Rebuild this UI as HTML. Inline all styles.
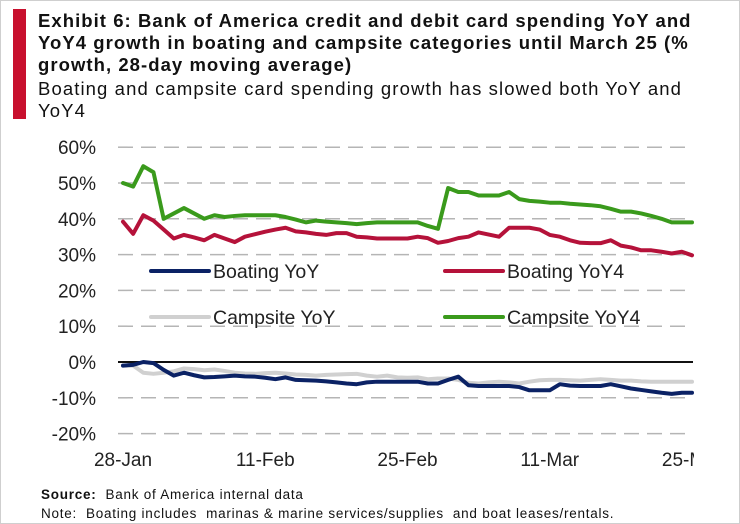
<!DOCTYPE html>
<html><head><meta charset="utf-8"><style>
body{margin:0;background:#fff;}
#wrap{position:relative;width:738px;height:522px;border:1px solid #cfcfcf;overflow:hidden;font-family:"Liberation Sans",sans-serif;}
#bar{position:absolute;left:12px;top:8px;width:13px;height:110px;background:#c8102e;}
#title{position:absolute;left:37px;top:9px;width:720px;font-weight:bold;font-size:18.5px;letter-spacing:1.05px;line-height:22px;color:#111;white-space:nowrap;}
#sub{position:absolute;left:37px;top:77px;width:720px;font-size:18.5px;letter-spacing:1.1px;line-height:22px;color:#111;white-space:nowrap;}
#foot{position:absolute;left:40px;top:484px;font-size:13.5px;letter-spacing:0.75px;line-height:19px;color:#111;white-space:nowrap;}
</style></head><body>
<div id="wrap">
<div id="bar"></div>
<div id="title">Exhibit 6: Bank of America credit and debit card spending YoY and<br>YoY4 growth in boating and campsite categories until March 25 (%<br>growth, 28-day moving average)</div>
<div id="sub">Boating and campsite card spending growth has slowed both YoY and<br>YoY4</div>
<svg id="chart" width="740" height="480" style="position:absolute;left:-1px;top:-1px;font-family:'Liberation Sans',sans-serif;"></svg>
<div id="foot"><b>Source:</b>&nbsp; Bank of America internal data<br>Note:&nbsp; Boating includes &nbsp;marinas &amp; marine services/supplies &nbsp;and boat leases/rentals.</div>
</div>
<script>
const xTickLabels=["28-Jan","11-Feb","25-Feb","11-Mar","25-Mar"];
const xTickDays=[0,14,28,42,56];
const yTicks=[60,50,40,30,20,10,0,-10,-20];
const boatingYoY=[-1,-0.8,0,-0.3,-2.2,-3.8,-3,-3.7,-4.3,-4.2,-4,-3.8,-4,-4.1,-4.4,-4.8,-4.3,-5,-5.1,-5.2,-5.4,-5.7,-6,-6.2,-5.7,-5.5,-5.5,-5.5,-5.5,-5.5,-6,-6,-5,-4.1,-6.5,-6.7,-6.7,-6.7,-6.7,-7,-7.9,-7.9,-7.9,-6.2,-6.6,-6.7,-6.7,-6.7,-6.2,-6.8,-7.4,-7.8,-8.2,-8.6,-8.9,-8.6,-8.6];
const boatingYoY4=[39.2,35.8,41,39.5,37,34.5,35.5,34.8,34,35.5,34.5,33.5,35,35.7,36.4,37,37.5,36.5,36.2,35.8,35.5,36,36,35,34.8,34.5,34.5,34.5,34.5,35,34.6,33.3,33.8,34.6,35,36.2,35.6,35,37.5,37.5,37.5,37,35.5,35,34,33.3,33.2,33.2,34,32.5,32,31.2,31.2,30.8,30.3,30.8,29.8];
const campsiteYoY=[-1,-1,-3,-3.3,-3,-2.6,-1.8,-2,-2.3,-2.1,-2.5,-3,-3.2,-3.3,-3.1,-3,-3.2,-3.5,-3.6,-3.8,-3.6,-3.5,-3.4,-3.3,-3.8,-4.1,-3.8,-4.3,-4.4,-4.3,-4.8,-4.6,-4.6,-5,-5.8,-6,-5.7,-5.5,-5.7,-6,-5.5,-5.1,-5,-5,-5.1,-5.2,-5,-4.8,-5,-5.2,-5.2,-5.4,-5.5,-5.5,-5.5,-5.5,-5.5];
const campsiteYoY4=[50,49,54.7,53,40,41.5,43,41.5,40,41,40.5,40.8,41,41,41,41,40.5,39.8,39,39.5,39.2,39,38.8,38.5,38.8,39,39,39,39,39,38,37.2,48.6,47.5,47.5,46.5,46.5,46.5,47.5,45.5,45,44.8,44.5,44.5,44.2,44,43.8,43.5,42.8,42,42,41.5,40.8,40,39,39,39];

const NS="http://www.w3.org/2000/svg";
const svg=document.getElementById('chart');
const x0=123,x1=692,y0=362,pxPer10=35.8;
function xs(d){return x0+(x1-x0)*d/56;}
function ys(v){return y0-v*pxPer10/10;}
function mk(t,a){const e=document.createElementNS(NS,t);for(const k in a)e.setAttribute(k,a[k]);svg.appendChild(e);return e;}

yTicks.forEach(v=>{
  const g=mk('line',{x1:118,x2:693,y1:ys(v),y2:ys(v),stroke:v===0?'#111':'#b5b5b5','stroke-width':v===0?2:1.5,'stroke-dasharray':v===0?'none':'15 8'});
  
  
  const t=mk('text',{x:96,y:ys(v)+7,'text-anchor':'end','font-size':19,fill:'#222'});
  t.textContent=v+'%';
  
  
});
const clip=mk('clipPath',{id:'xc'});
const cr=document.createElementNS(NS,'rect');cr.setAttribute('x',0);cr.setAttribute('y',0);cr.setAttribute('width',694);cr.setAttribute('height',480);clip.appendChild(cr);
xTickDays.forEach((d,i)=>{
  const t=mk('text',{x:xs(d),y:466,'text-anchor':'middle','font-size':19,fill:'#222','clip-path':'url(#xc)'});
  t.textContent=xTickLabels[i];
  
  
});
function series(arr,color,name){
  const p=mk('polyline',{points:arr.map((v,i)=>xs(i)+','+ys(v)).join(' '),fill:'none',stroke:color,'stroke-width':4,'stroke-linejoin':'round','stroke-linecap':'round'});
  
  
}
series(campsiteYoY,'#d0d0d0','campsite-yoy-line');
series(boatingYoY,'#0b2265','boating-yoy-line');
series(boatingYoY4,'#b5123a','boating-yoy4-line');
series(campsiteYoY4,'#3a9a1c','campsite-yoy4-line');

const legend=[["Boating YoY","#0b2265",151,271],["Boating YoY4","#b5123a",445,271],["Campsite YoY","#d0d0d0",151,317],["Campsite YoY4","#3a9a1c",445,317]];
legend.forEach(l=>{
  const ln=mk('line',{x1:l[2],x2:l[2]+58,y1:l[3],y2:l[3],stroke:l[1],'stroke-width':4,'stroke-linecap':'round'});
  
  
  const t=mk('text',{x:l[2]+62,y:l[3]+7,'font-size':19.5,fill:'#222'});
  t.textContent=l[0];
  
  
});
</script>
</body></html>
